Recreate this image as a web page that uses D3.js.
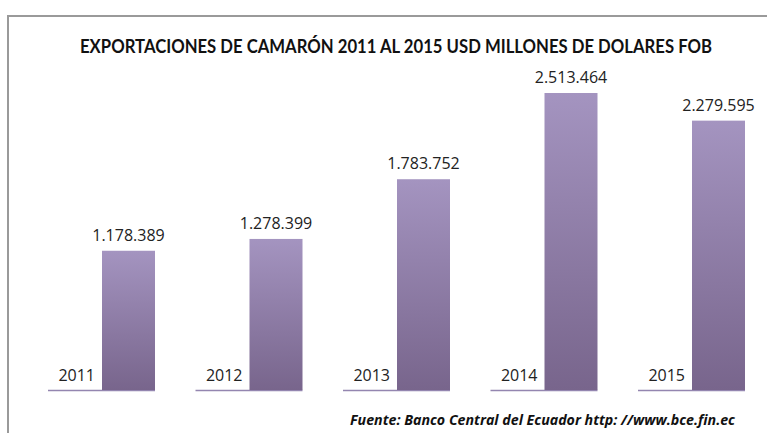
<!DOCTYPE html>
<html>
<head>
<meta charset="utf-8">
<script src="https://cdn.jsdelivr.net/npm/d3@7"></script>
<style>
  body { margin: 0; background: #fff; }
  svg { display: block; }
</style>
</head>
<body>
<div id="chart"></div>
<script>
const years = ["2011", "2012", "2013", "2014", "2015"];
const values = [1178389, 1278399, 1783752, 2513464, 2279595];
const valueLabels = ["1.178.389", "1.278.399", "1.783.752", "2.513.464", "2.279.595"];
const title = "EXPORTACIONES DE CAMARÓN 2011 AL 2015 USD MILLONES DE DOLARES FOB";
const source = "Fuente: Banco Central del Ecuador http: //www.bce.fin.ec";

const W = 767, H = 433;
const svg = d3.select("#chart").append("svg")
    .attr("width", W)
    .attr("height", H);

// outer frame (only top and left edges are visible)
svg.append("path")
    .attr("d", `M8,${H} L8,16 L${W},16`)
    .attr("fill", "none")
    .attr("stroke", "#9a9a9a")
    .attr("stroke-width", 2);

const defs = svg.append("defs");
const grad = defs.append("linearGradient")
    .attr("id", "barGrad")
    .attr("x1", "0%").attr("y1", "0%")
    .attr("x2", "0%").attr("y2", "100%");
grad.append("stop").attr("offset", "0%").attr("stop-color", "#a494c0");
grad.append("stop").attr("offset", "100%").attr("stop-color", "#78658c");

const x = d3.scaleBand()
    .domain(years)
    .range([48, 48 + 147.5 * years.length]);
const barOffset = 54, barW = 53;

const y = d3.scaleLinear()
    .domain([0, d3.max(values)])
    .range([390, 93]);

// title
svg.append("text")
    .attr("x", 80)
    .attr("y", 53)
    .attr("textLength", 632)
    .attr("lengthAdjust", "spacingAndGlyphs")
    .style("font-family", "Lato, 'Open Sans', sans-serif")
    .style("font-weight", "bold")
    .style("font-size", "18px")
    .style("fill", "#111")
    .text(title);

const data = years.map((yr, i) => ({ year: yr, value: values[i], label: valueLabels[i] }));

// base lines
svg.selectAll(".base")
    .data(data)
    .enter()
    .append("line")
    .attr("x1", d => x(d.year))
    .attr("x2", d => x(d.year) + barOffset + barW)
    .attr("y1", y(0) + 0.5)
    .attr("y2", y(0) + 0.5)
    .attr("stroke", "#9486b0")
    .attr("stroke-width", 1.5);

// bars
svg.selectAll(".bar")
    .data(data)
    .enter()
    .append("rect")
    .attr("class", "bar")
    .attr("x", d => x(d.year) + barOffset)
    .attr("y", d => y(d.value))
    .attr("width", barW)
    .attr("height", d => y(0) - y(d.value))
    .attr("fill", "url(#barGrad)");

// value labels
svg.selectAll(".val")
    .data(data)
    .enter()
    .append("text")
    .attr("x", d => x(d.year) + barOffset + barW / 2)
    .attr("y", d => y(d.value) - 10)
    .attr("text-anchor", "middle")
    .style("font-family", "'Open Sans', sans-serif")
    .style("font-size", "16px")
    .style("fill", "#222")
    .text(d => d.label);

// year labels
svg.selectAll(".yr")
    .data(data)
    .enter()
    .append("text")
    .attr("x", d => x(d.year) + barOffset - 7)
    .attr("y", 381)
    .attr("text-anchor", "end")
    .style("font-family", "'Open Sans', sans-serif")
    .style("font-size", "16px")
    .style("fill", "#222")
    .text(d => d.year);

// source
svg.append("text")
    .attr("x", 350)
    .attr("y", 425)
    .attr("textLength", 385)
    .attr("lengthAdjust", "spacingAndGlyphs")
    .style("font-family", "'Open Sans', sans-serif")
    .style("font-weight", "bold")
    .style("font-style", "italic")
    .style("font-size", "14px")
    .style("fill", "#111")
    .text(source);
</script>
</body>
</html>
